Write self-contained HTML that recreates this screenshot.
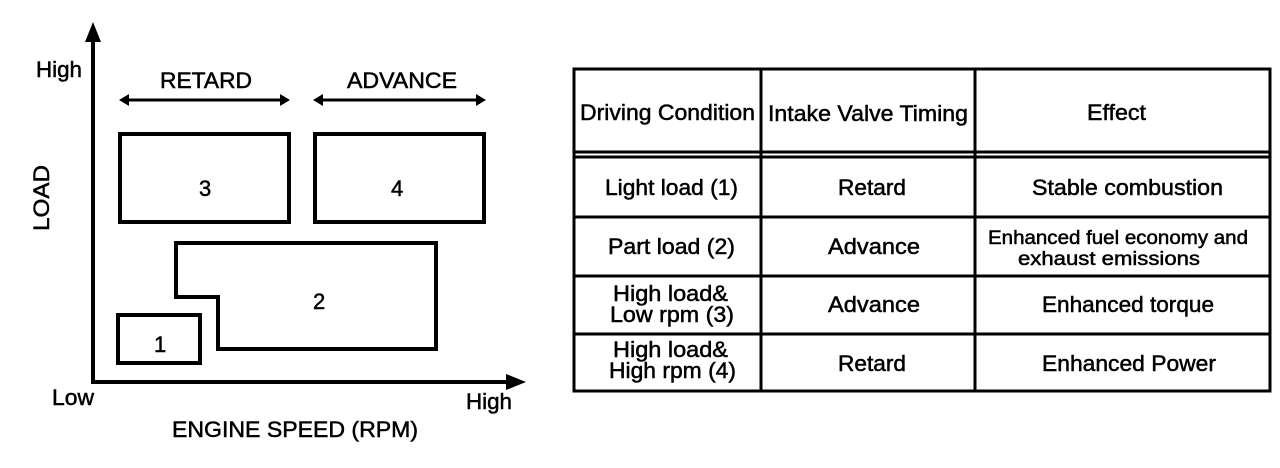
<!DOCTYPE html>
<html><head><meta charset="utf-8"><style>
html,body{margin:0;padding:0;background:#fff;width:1280px;height:468px;overflow:hidden}
svg{display:block}
text{font-family:"Liberation Sans",Arial,sans-serif;fill:#000;stroke:#000;stroke-width:0.5}
</style></head><body>
<svg width="1280" height="468" viewBox="0 0 1280 468" xmlns="http://www.w3.org/2000/svg">
<g stroke="#000" fill="none" stroke-width="4">
<line x1="93" y1="34" x2="93" y2="383"/>
<line x1="91" y1="382" x2="512" y2="382"/>
<rect x="120" y="134" width="169" height="88"/>
<rect x="315" y="134" width="169" height="88"/>
<polygon points="176,243 436,243 436,349 218,349 218,297 176,297"/>
<rect x="118" y="315" width="82" height="48"/>
</g>
<polygon points="93,22 85,42 101,42" fill="#000"/>
<polygon points="526,382 506,374 506,390" fill="#000"/>
<g stroke="#000" stroke-width="3">
<line x1="124" y1="100" x2="285" y2="100"/>
<line x1="318" y1="100" x2="481" y2="100"/>
</g>
<g fill="#000">
<polygon points="119,100 129,94 129,106"/><polygon points="290,100 280,94 280,106"/>
<polygon points="313,100 323,94 323,106"/><polygon points="486,100 476,94 476,106"/>
</g>
<g font-size="22">
<text x="160" y="88" textLength="92" lengthAdjust="spacingAndGlyphs">RETARD</text>
<text x="347" y="88" textLength="110" lengthAdjust="spacingAndGlyphs">ADVANCE</text>
<text x="36" y="77" textLength="46" lengthAdjust="spacingAndGlyphs">High</text>
<text x="52" y="405" textLength="42" lengthAdjust="spacingAndGlyphs">Low</text>
<text x="466" y="409" textLength="46" lengthAdjust="spacingAndGlyphs">High</text>
<text x="172" y="437" textLength="246" lengthAdjust="spacingAndGlyphs">ENGINE SPEED (RPM)</text>
<text transform="translate(49,231) rotate(-90)" textLength="66" lengthAdjust="spacingAndGlyphs">LOAD</text>
<text x="199" y="196">3</text><text x="391" y="196">4</text>
<text x="313" y="309">2</text><text x="154" y="352">1</text>
</g>
<g stroke="#000" stroke-width="3" fill="none">
<rect x="574" y="69" width="696" height="322"/>
<line x1="761" y1="69" x2="761" y2="391"/>
<line x1="975" y1="69" x2="975" y2="391"/>
<line x1="574" y1="152" x2="1270" y2="152"/>
<line x1="574" y1="157" x2="1270" y2="157"/>
<line x1="574" y1="217" x2="1270" y2="217"/>
<line x1="574" y1="276" x2="1270" y2="276"/>
<line x1="574" y1="334" x2="1270" y2="334"/>
</g>
<g font-size="22">
<text x="580" y="120" textLength="175" lengthAdjust="spacingAndGlyphs">Driving Condition</text>
<text x="768" y="121" textLength="200" lengthAdjust="spacingAndGlyphs">Intake Valve Timing</text>
<text x="1087" y="120" textLength="59" lengthAdjust="spacingAndGlyphs">Effect</text>
<text x="605" y="195" textLength="133" lengthAdjust="spacingAndGlyphs">Light load (1)</text>
<text x="838" y="195" textLength="68" lengthAdjust="spacingAndGlyphs">Retard</text>
<text x="1032" y="195" textLength="191" lengthAdjust="spacingAndGlyphs">Stable combustion</text>
<text x="608" y="254" textLength="127" lengthAdjust="spacingAndGlyphs">Part load (2)</text>
<text x="828" y="254" textLength="92" lengthAdjust="spacingAndGlyphs">Advance</text>
<text x="988" y="244" font-size="19" textLength="260" lengthAdjust="spacingAndGlyphs">Enhanced fuel economy and</text>
<text x="1018" y="265" font-size="19" textLength="182" lengthAdjust="spacingAndGlyphs">exhaust emissions</text>
<text x="613" y="301" textLength="115" lengthAdjust="spacingAndGlyphs">High load&amp;</text>
<text x="610" y="322" textLength="124" lengthAdjust="spacingAndGlyphs">Low rpm (3)</text>
<text x="828" y="312" textLength="92" lengthAdjust="spacingAndGlyphs">Advance</text>
<text x="1042" y="312" textLength="172" lengthAdjust="spacingAndGlyphs">Enhanced torque</text>
<text x="613" y="357" textLength="115" lengthAdjust="spacingAndGlyphs">High load&amp;</text>
<text x="609" y="378" textLength="127" lengthAdjust="spacingAndGlyphs">High rpm (4)</text>
<text x="838" y="371" textLength="68" lengthAdjust="spacingAndGlyphs">Retard</text>
<text x="1042" y="371" textLength="174" lengthAdjust="spacingAndGlyphs">Enhanced Power</text>
</g>
</svg>
</body></html>
